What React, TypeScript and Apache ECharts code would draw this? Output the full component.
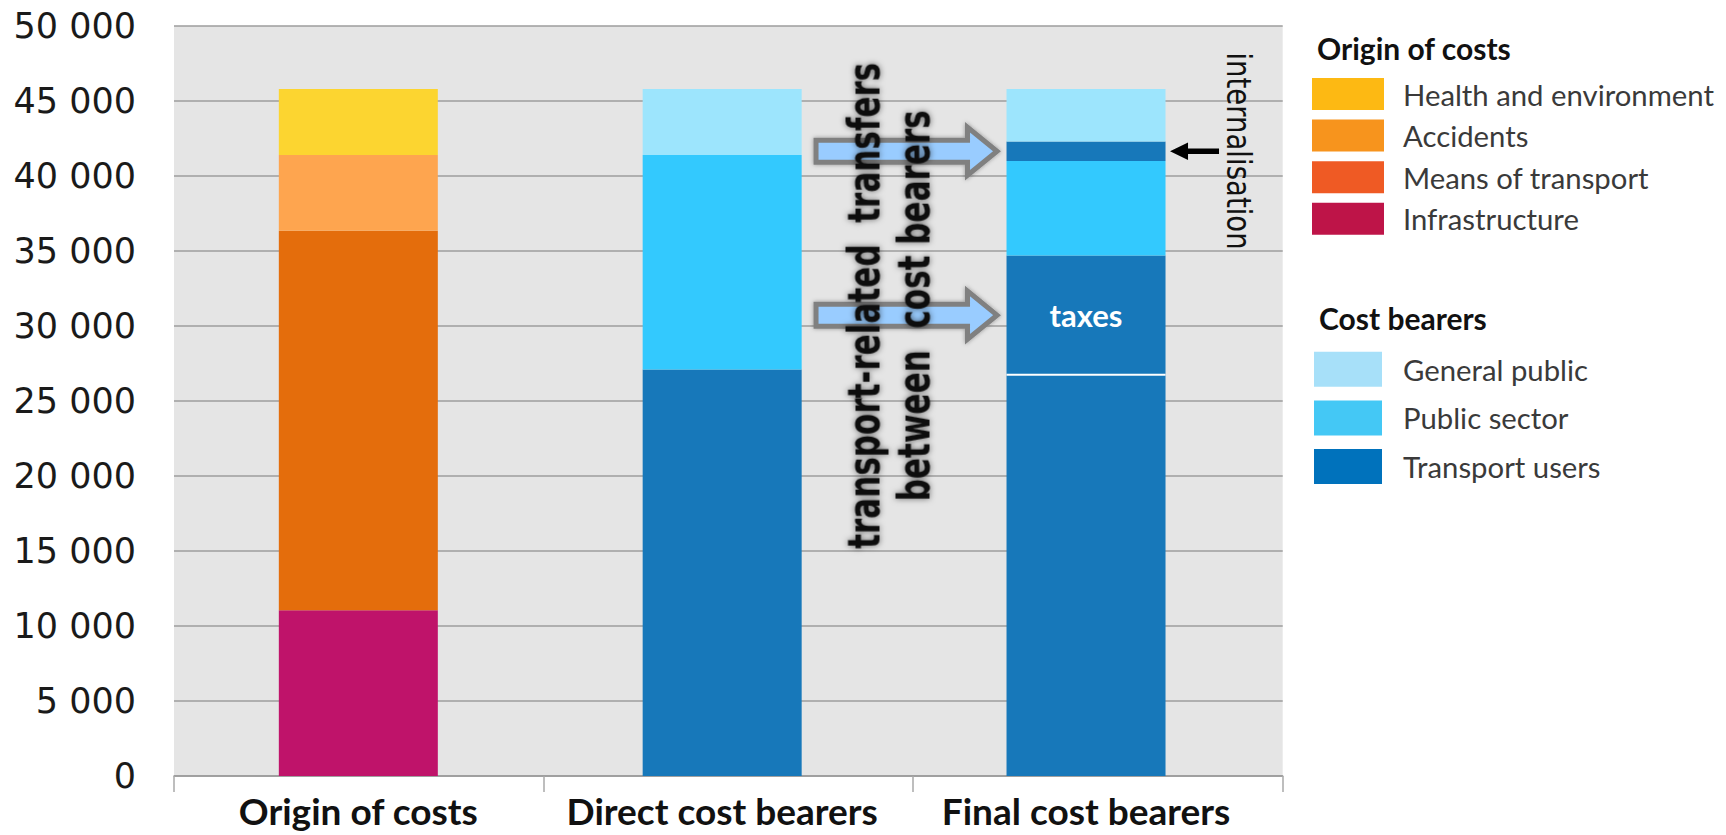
import React, { useEffect, useRef } from 'react';
import * as echarts from 'echarts';

// Transport costs by origin and by bearer (stacked, bottom to top)
const categories = ['Origin of costs', 'Direct cost bearers', 'Final cost bearers'];

const infrastructure = [11050, null, null];
const meansOfTransport = [25300, null, null];
const accidents = [5050, null, null];
const healthEnvironment = [4400, null, null];

const transportUsers = [null, 27100, 26750];
const taxes = [null, null, 7950];
const publicSector = [null, 14300, 6300];
const internalisation = [null, null, 1300];
const generalPublic = [null, 4400, 3500];

const Y_MIN = 0;
const Y_MAX = 50000;
const Y_STEP = 5000;

const originLegend = [
  { name: 'Health and environment', color: '#FDB913' },
  { name: 'Accidents', color: '#F7941D' },
  { name: 'Means of transport', color: '#EF5A24' },
  { name: 'Infrastructure', color: '#BE1448' },
];
const bearerLegend = [
  { name: 'General public', color: '#A7E0F9' },
  { name: 'Public sector', color: '#44C8F5' },
  { name: 'Transport users', color: '#0072BC' },
];

const BAR_COLORS = {
  health: '#FCD530',
  accidents: '#FEA54F',
  means: '#E46D0C',
  infra: '#BF136A',
  general: '#9DE5FD',
  public: '#33C9FE',
  users: '#1778BA',
};

const BAR_WIDTH = 159;
const FINAL = 2;

// Midpoints of the transferred segments in the final bar
const taxesMid = (transportUsers[FINAL] as number) + (taxes[FINAL] as number) / 2;
const internalisationMid =
  (transportUsers[FINAL] as number) +
  (taxes[FINAL] as number) +
  (publicSector[FINAL] as number) +
  (internalisation[FINAL] as number) / 2;

const fmtThousands = (v: number) => String(v).replace(/\B(?=(\d{3})+(?!\d))/g, ' ');

function stacked(name: string, data: (number | null)[], color: string, extra: any = {}) {
  return {
    name,
    type: 'bar',
    stack: 'total',
    xAxisIndex: 0,
    yAxisIndex: 0,
    barWidth: BAR_WIDTH,
    data,
    itemStyle: { color },
    emphasis: { disabled: true },
    ...extra,
  };
}

export default function App() {
  const ref = useRef<HTMLDivElement>(null);

  useEffect(() => {
    if (!ref.current) return;
    const chart = echarts.init(ref.current, undefined, { renderer: 'svg' });

    const option: any = {
      animation: false,
      grid: [
        // bars
        { left: 176.4, right: 458.05, top: 26, bottom: 59 },
        // grey plotting frame with grid lines
        {
          left: 174,
          right: 443.3,
          top: 26,
          bottom: 59,
          show: true,
          backgroundColor: '#E5E5E5',
          borderWidth: 0,
          z: 0,
        },
      ],
      xAxis: [
        {
          gridIndex: 0,
          type: 'category',
          data: categories,
          axisLine: { show: false },
          axisTick: { show: false },
          axisLabel: {
            interval: 0,
            hideOverlap: false,
            margin: 16,
            fontFamily: 'Lato',
            fontWeight: 'bold',
            fontSize: 37,
            color: '#111',
          },
        },
        {
          gridIndex: 1,
          type: 'category',
          data: categories,
          axisLine: { show: true, lineStyle: { color: '#9a9a9a', width: 1.5 } },
          axisTick: { show: true, interval: 0, length: 16, lineStyle: { color: '#a8a8a8', width: 1.5 } },
          axisLabel: { show: false },
        },
      ],
      yAxis: [
        { gridIndex: 0, type: 'value', min: Y_MIN, max: Y_MAX, interval: Y_STEP, show: false },
        {
          gridIndex: 1,
          type: 'value',
          min: Y_MIN,
          max: Y_MAX,
          interval: Y_STEP,
          axisLine: { show: false },
          axisTick: { show: false },
          splitLine: { show: true, lineStyle: { color: '#9c9c9c', width: 1.5 } },
          axisLabel: {
            margin: 38,
            fontFamily: 'DejaVu Sans',
            fontSize: 35,
            color: '#1a1a1a',
            formatter: (v: number) => fmtThousands(v),
          },
        },
      ],
      legend: [
        {
          orient: 'vertical',
          left: 1312,
          top: 78,
          padding: 0,
          itemWidth: 72,
          itemHeight: 32,
          itemGap: 9.6,
          icon: 'rect',
          selectedMode: false,
          data: originLegend.map((d) => ({ name: d.name, itemStyle: { color: d.color } })),
          textStyle: { fontFamily: 'Lato', fontSize: 29.3, color: '#3a3a3a', padding: [0, 0, 0, 14] },
        },
        {
          orient: 'vertical',
          left: 1314,
          top: 351.7,
          padding: 0,
          itemWidth: 68,
          itemHeight: 35,
          itemGap: 13.7,
          icon: 'rect',
          selectedMode: false,
          data: bearerLegend.map((d) => ({ name: d.name, itemStyle: { color: d.color } })),
          textStyle: { fontFamily: 'Lato', fontSize: 29.3, color: '#3a3a3a', padding: [0, 0, 0, 16] },
        },
      ],
      series: [
        stacked('Infrastructure', infrastructure, BAR_COLORS.infra),
        stacked('Means of transport', meansOfTransport, BAR_COLORS.means),
        stacked('Accidents', accidents, BAR_COLORS.accidents),
        stacked('Health and environment', healthEnvironment, BAR_COLORS.health),
        stacked('Transport users', transportUsers, BAR_COLORS.users),
        stacked('taxes', taxes, BAR_COLORS.users, {
          label: {
            show: true,
            position: 'inside',
            formatter: 'taxes',
            color: '#fff',
            fontFamily: 'Lato',
            fontWeight: 'bold',
            fontSize: 31,
          },
        }),
        stacked('Public sector', publicSector, BAR_COLORS.public),
        stacked('internalisation', internalisation, BAR_COLORS.users),
        stacked('General public', generalPublic, BAR_COLORS.general),
        // white divider between the users' own share and the taxes
        {
          name: 'divider',
          type: 'custom',
          xAxisIndex: 0,
          yAxisIndex: 0,
          silent: true,
          z: 5,
          encode: { x: 0, y: 1 },
          data: [[FINAL, transportUsers[FINAL]]],
          renderItem: (_p: any, api: any) => {
            const [cx, cy] = api.coord([api.value(0), api.value(1)]);
            return {
              type: 'line',
              shape: { x1: cx - BAR_WIDTH / 2, y1: cy, x2: cx + BAR_WIDTH / 2, y2: cy },
              style: { stroke: '#ffffff', lineWidth: 2 },
            };
          },
        },
        // block arrows for the transfers between cost bearers
        {
          name: 'transfers',
          type: 'custom',
          xAxisIndex: 0,
          yAxisIndex: 0,
          silent: true,
          z: 6,
          encode: { x: 0, y: 1 },
          data: [
            [FINAL, internalisationMid],
            [FINAL, taxesMid],
          ],
          renderItem: (_p: any, api: any) => {
            const [cx, cy] = api.coord([api.value(0), api.value(1)]);
            const tip = cx - BAR_WIDTH / 2 - 9.5;
            const len = 181;
            const headLen = 29.5;
            const headHalf = 24;
            const shaftHalf = 11;
            return {
              type: 'polygon',
              shape: {
                points: [
                  [tip - len, cy - shaftHalf],
                  [tip - headLen, cy - shaftHalf],
                  [tip - headLen, cy - headHalf],
                  [tip, cy],
                  [tip - headLen, cy + headHalf],
                  [tip - headLen, cy + shaftHalf],
                  [tip - len, cy + shaftHalf],
                ],
              },
              style: {
                fill: '#99CCFF',
                stroke: '#808080',
                lineWidth: 5,
                lineJoin: 'miter',
                shadowBlur: 4,
                shadowColor: 'rgba(0,0,0,0.35)',
              },
            };
          },
        },
        // small pointer to the internalised share
        {
          name: 'pointer',
          type: 'custom',
          xAxisIndex: 0,
          yAxisIndex: 0,
          silent: true,
          z: 6,
          encode: { x: 0, y: 1 },
          data: [[FINAL, internalisationMid]],
          renderItem: (_p: any, api: any) => {
            const [cx, cy] = api.coord([api.value(0), api.value(1)]);
            const tx = cx + BAR_WIDTH / 2 + 4.5;
            return {
              type: 'polygon',
              shape: {
                points: [
                  [tx, cy],
                  [tx + 18, cy - 8.7],
                  [tx + 18, cy - 2.8],
                  [tx + 49, cy - 2.8],
                  [tx + 49, cy + 2.8],
                  [tx + 18, cy + 2.8],
                  [tx + 18, cy + 8.7],
                ],
              },
              style: { fill: '#000' },
            };
          },
        },
      ],
      graphic: [
        {
          type: 'text',
          x: 1317,
          y: 48,
          z: 100,
          style: {
            text: 'Origin of costs',
            fontFamily: 'Lato',
            fontWeight: 'bold',
            fontSize: 30,
            fill: '#111',
            verticalAlign: 'middle',
          },
        },
        {
          type: 'text',
          x: 1319,
          y: 318,
          z: 100,
          style: {
            text: 'Cost bearers',
            fontFamily: 'Lato',
            fontWeight: 'bold',
            fontSize: 30,
            fill: '#111',
            verticalAlign: 'middle',
          },
        },
        {
          type: 'text',
          x: 889.5,
          y: 305.7,
          rotation: Math.PI / 2,
          scaleX: 0.706,
          z: 100,
          style: {
            text: 'transport-related  transfers\nbetween  cost bearers',
            fontFamily: 'DejaVu Sans',
            fontWeight: 'bold',
            fontSize: 44,
            lineHeight: 50.5,
            fill: '#111',
            align: 'center',
            verticalAlign: 'middle',
            textShadowColor: 'rgba(0,0,0,0.55)',
            textShadowBlur: 6,
          },
        },
        {
          type: 'text',
          x: 1238,
          y: 151,
          rotation: -Math.PI / 2,
          scaleX: 0.835,
          z: 100,
          style: {
            text: 'internalisation',
            fontFamily: 'DejaVu Sans',
            fontSize: 33,
            fill: '#111',
            align: 'center',
            verticalAlign: 'middle',
          },
        },
      ],
    };

    chart.setOption(option);
    return () => chart.dispose();
  }, []);

  return (
    <div
      ref={ref}
      style={{ position: 'fixed', left: 0, top: 0, width: 1726, height: 835, background: '#fff' }}
    />
  );
}
